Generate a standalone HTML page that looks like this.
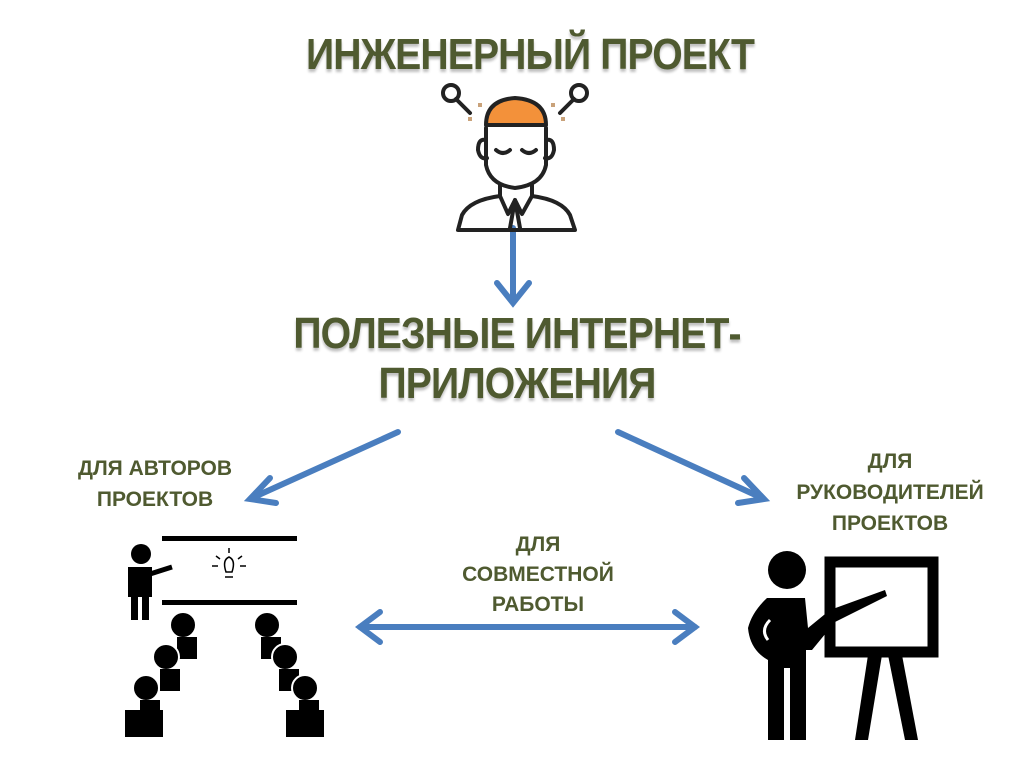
<!DOCTYPE html>
<html><head><meta charset="utf-8"><style>
body{margin:0;width:1024px;height:767px;background:#fff;overflow:hidden;position:relative;font-family:"Liberation Sans",sans-serif}
.t{position:absolute;left:0;width:1024px;text-align:center;font-weight:bold;color:#4f5a30;white-space:nowrap}
.big{font-size:44px;letter-spacing:-1px;text-shadow:0 3px 3px rgba(0,0,0,.25);transform:scaleX(0.89)}
.s{font-size:21px;color:#4f5a30;position:absolute;text-align:center;font-weight:bold;line-height:31px;white-space:nowrap}
</style></head><body>
<div class="t big" style="top:30px;left:18px">ИНЖЕНЕРНЫЙ ПРОЕКТ</div>
<div class="t big" style="top:309px;left:5px">ПОЛЕЗНЫЕ ИНТЕРНЕТ-</div>
<div class="t big" style="top:359px;left:5px">ПРИЛОЖЕНИЯ</div>
<div class="s" style="left:55px;width:200px;top:453px">ДЛЯ АВТОРОВ<br>ПРОЕКТОВ</div>
<div class="s" style="left:790px;width:200px;top:446px">ДЛЯ<br>РУКОВОДИТЕЛЕЙ<br>ПРОЕКТОВ</div>
<div class="s" style="left:438px;width:200px;top:530px;line-height:30px">ДЛЯ<br>СОВМЕСТНОЙ<br>РАБОТЫ</div>
<svg width="1024" height="767" style="position:absolute;left:0;top:0">
<defs><g id="p"><circle cx="0" cy="0" r="13" stroke="#fff" stroke-width="2"/><rect x="-6" y="12" width="20" height="22"/></g></defs>
<g stroke="#4a7ebf" stroke-width="6" fill="none" stroke-linecap="round">
<line x1="513" y1="228" x2="513" y2="300"/>
<polyline points="497,283 513,303 529,283"/>
<line x1="398" y1="432" x2="252" y2="498"/>
<polyline points="270,478 250,499 276,503"/>
<line x1="618" y1="432" x2="762" y2="498"/>
<polyline points="744,478 764,499 738,503"/>
<line x1="360" y1="627" x2="695" y2="627"/>
<polyline points="380,612 360,627 380,642"/>
<polyline points="675,612 695,627 675,642"/>
</g>
<!-- engineer -->
<g stroke="#222" stroke-width="4" fill="none" stroke-linecap="round" stroke-linejoin="round">
<path d="M486,125 Q486,100 515,98 Q546,100 546,125 Z" fill="#f3913a"/>
<path d="M486,128 L486,165 Q490,185 515,188 Q542,185 546,165 L546,128"/>
<path d="M486,140 Q478,138 478,150 Q480,160 487,158"/>
<path d="M546,140 Q554,138 554,150 Q552,160 545,158"/>
<path d="M496,150 Q503,156 510,150 M522,150 Q529,156 536,150"/>
<path d="M500,185 L500,196 Q470,200 462,215 L458,230 L575,230 L570,215 Q562,200 532,196 L532,185"/>
<path d="M500,196 L508,214 L515,200 L522,214 L532,196 M515,200 L510,228 M515,200 L520,228"/>
<circle cx="451" cy="93" r="8"/><line x1="456" y1="99" x2="470" y2="113"/>
<circle cx="579" cy="93" r="8"/><line x1="574" y1="99" x2="560" y2="113"/>
</g>
<g fill="#c9a27a"><rect x="478" y="103" width="4" height="4"/><rect x="468" y="117" width="4" height="4"/><rect x="551" y="103" width="4" height="4"/><rect x="561" y="117" width="4" height="4"/></g>
<!-- left group -->
<g fill="#000">
<rect x="162" y="536" width="135" height="5"/><rect x="162" y="600" width="135" height="5"/>
<circle cx="141" cy="554" r="10"/>
<rect x="128" y="567" width="24" height="30"/><rect x="131" y="596" width="7" height="24"/><rect x="142" y="596" width="7" height="24"/>
<line x1="150" y1="574" x2="172" y2="567" stroke="#000" stroke-width="5"/>
<use href="#p" x="183" y="625"/><use href="#p" x="166" y="657"/><use href="#p" x="146" y="688"/>
<use href="#p" x="267" y="625"/><use href="#p" x="285" y="657"/><use href="#p" x="305" y="688"/>
<rect x="125" y="710" width="38" height="27"/><rect x="286" y="710" width="38" height="27"/>
</g>
<g stroke="#000" stroke-width="1.5" fill="none"><path d="M226,572 Q222,560 229,557 Q236,560 232,572 Z"/><line x1="225" y1="577" x2="233" y2="577"/><line x1="229" y1="548" x2="229" y2="553"/><line x1="216" y1="556" x2="220" y2="559"/><line x1="242" y1="556" x2="238" y2="559"/><line x1="212" y1="566" x2="218" y2="566"/><line x1="240" y1="566" x2="246" y2="566"/></g>
<!-- right presenter -->
<g fill="#000">
<circle cx="787" cy="570" r="19"/>
<rect x="830" y="562" width="103" height="90" fill="none" stroke="#000" stroke-width="11"/>
<path d="M767,598 L805,598 L808,628 L830,610 L885,590 L887,596 L835,622 L812,650 L806,650 L806,740 L790,740 L790,668 L784,668 L784,740 L768,740 L768,660 Q750,650 748,628 Q752,612 767,598 Z"/>
<path d="M868,655 L882,655 L868,740 L855,740 Z"/><path d="M888,655 L902,655 L918,740 L905,740 Z"/>
</g>
<path d="M770,620 Q760,630 768,640" stroke="#fff" stroke-width="3" fill="none"/>
</svg>
</body></html>
